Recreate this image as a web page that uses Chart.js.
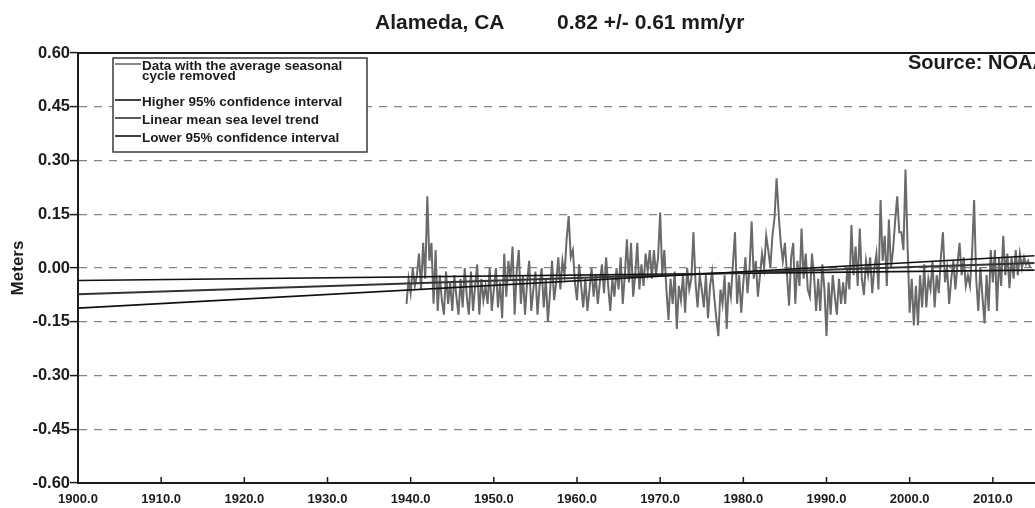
<!DOCTYPE html>
<html>
<head>
<meta charset="utf-8">
<title>Alameda, CA mean sea level trend</title>
<script src="https://cdn.jsdelivr.net/npm/chart.js@4.4.1/dist/chart.umd.min.js"></script>
<style>
  html, body { margin: 0; padding: 0; background: #fff; overflow: hidden; }
  canvas { display: block; }
</style>
</head>
<body>
<canvas id="slr" width="1117" height="508"></canvas>
<script>
// Sea level with the seasonal cycle removed (m), quarterly samples from 1939.5
const seriesStart = 1939.5;
const seriesStep = 0.25;
const seaLevel = [
  -0.10, -0.03,
  -0.07, 0.00, -0.05, -0.02,     // 1940
  0.04, -0.06, 0.07, -0.03,
  0.20, 0.02, 0.07, -0.10,
  0.05, -0.12, -0.02, -0.09,
  -0.13, -0.01, -0.10, -0.04,
  -0.12, -0.02, -0.08, -0.13,
  -0.03, -0.11, 0.00, -0.08,
  -0.13, -0.01, -0.12, -0.05,
  0.01, -0.13, -0.03, -0.09,
  -0.05, -0.10, 0.00, -0.12,
  -0.06, 0.00, -0.11, -0.04,     // 1950
  -0.14, 0.04, -0.08, 0.02,
  -0.03, 0.06, -0.13, -0.01,
  0.05, -0.10, -0.02, -0.13,
  -0.04, 0.02, -0.12, -0.06,
  -0.01, -0.13, -0.05, 0.00,
  -0.11, -0.03, -0.15, -0.07,
  0.02, -0.09, -0.04, 0.03,
  -0.06, 0.02, -0.02, 0.08,
  0.145, 0.03, 0.05, -0.04,
  -0.09, 0.01, -0.05, -0.11,     // 1960
  -0.03, -0.12, -0.06, 0.00,
  -0.08, -0.02, -0.10, -0.04,
  0.01, -0.07, 0.03, -0.05,
  -0.12, -0.03, -0.08, 0.00,
  -0.06, 0.03, -0.10, -0.02,
  0.08, -0.04, 0.07, -0.08,
  -0.02, 0.07, -0.06, 0.01,
  -0.05, 0.04, -0.01, 0.05,
  -0.03, 0.05, -0.02, 0.03,
  0.155, -0.02, 0.05, -0.06,     // 1970
  -0.145, -0.03, -0.10, -0.01,
  -0.17, -0.05, -0.09, -0.02,
  -0.125, 0.00, -0.06, -0.03,
  0.10, -0.04, -0.11, -0.02,
  -0.06, -0.11, -0.02, -0.14,
  -0.05, -0.01, -0.08, -0.14,
  -0.19, -0.06, -0.10, -0.02,
  -0.17, -0.04, -0.08, 0.01,
  0.10, -0.10, -0.02, -0.125,
  -0.04, 0.03, -0.07, 0.00,      // 1980
  0.13, -0.03, 0.02, -0.08,
  -0.02, 0.04, 0.00, 0.09,
  0.05, 0.00, 0.09, 0.14,
  0.25, 0.15, 0.07, 0.02,
  0.07, -0.02, -0.105, 0.03,
  0.07, -0.10, 0.02, -0.05,
  0.11, -0.03, 0.04, -0.06,
  -0.08, 0.04, -0.02, -0.12,
  -0.03, -0.12, 0.01, -0.06,
  -0.19, -0.04, -0.13, -0.02,    // 1990
  -0.08, -0.13, -0.03, -0.10,
  -0.04, -0.10, 0.00, -0.06,
  0.12, -0.02, 0.06, -0.05,
  0.11, -0.03, -0.075, 0.02,
  -0.02, 0.03, -0.07, 0.00,
  0.04, -0.06, 0.19, 0.02,
  0.09, -0.05, 0.135, 0.00,
  0.05, 0.13, 0.20, 0.10,
  0.10, 0.05, 0.275, 0.06,
  -0.125, -0.03, -0.16, -0.05,   // 2000
  -0.16, -0.02, -0.11, 0.01,
  -0.11, -0.03, -0.06, 0.02,
  -0.11, -0.02, -0.07, 0.03,
  0.10, -0.04, 0.00, -0.10,
  -0.03, 0.02, -0.06, 0.01,
  0.07, -0.02, 0.03, -0.05,
  -0.02, -0.05, 0.04, 0.19,
  -0.03, -0.12, 0.00, -0.08,
  -0.155, -0.02, -0.12, 0.05,
  -0.04, 0.05, -0.12, 0.03,      // 2010
  -0.05, 0.09, -0.02, 0.04,
  -0.056, 0.03, -0.03, 0.05,
  -0.02, 0.04, 0.00, 0.03,
  0.01, 0.02, 0.00
];

// linear trend and its 95% confidence lines, end points
const trendYears = [1900, 2015];
const trendLine = [-0.073, 0.014];
const upperCI = [-0.112, 0.034];
const lowerCI = [-0.035, -0.006];

const xTicks = [1900, 1910, 1920, 1930, 1940, 1950, 1960, 1970, 1980, 1990, 2000, 2010, 2020];
const yTicks = [-0.60, -0.45, -0.30, -0.15, 0.00, 0.15, 0.30, 0.45, 0.60];

const legendLabels = [
  ['Data with the average seasonal', 'cycle removed'],
  ['Higher 95% confidence interval'],
  ['Linear mean sea level trend'],
  ['Lower 95% confidence interval']
];

const stationName = 'Alameda, CA';
const trendRate = '0.82 +/- 0.61 mm/yr';
const sourceNote = 'Source: NOAA';

const FONT = '"Liberation Sans", Arial, sans-serif';
const INK = '#1c1c1c';

const pts = (xs, ys) => xs.map((x, i) => ({ x: x, y: ys[i] }));
const seaLevelPoints = seaLevel.map((v, i) => ({ x: seriesStart + i * seriesStep, y: v }));

// heading, legend box, source note, top frame line and inward x ticks
const decorations = {
  id: 'decorations',
  afterDatasetsDraw(chart) {
    const { ctx, chartArea } = chart;
    const ds = chart.data.datasets;
    ctx.save();

    // heading: station on the left, rate a little further right
    ctx.fillStyle = INK;
    ctx.font = 'bold 21px ' + FONT;
    ctx.textBaseline = 'middle';
    ctx.textAlign = 'left';
    ctx.fillText(stationName, 375, 23);
    ctx.fillText(trendRate, 557, 23);

    // top frame
    ctx.strokeStyle = INK;
    ctx.lineWidth = 2;
    ctx.beginPath();
    ctx.moveTo(chartArea.left, chartArea.top);
    ctx.lineTo(chartArea.right, chartArea.top);
    ctx.stroke();

    // short x ticks pointing up into the plot
    const xs = chart.scales.x;
    ctx.lineWidth = 1.5;
    xs.ticks.forEach(t => {
      const px = xs.getPixelForValue(t.value);
      ctx.beginPath();
      ctx.moveTo(px, chartArea.bottom);
      ctx.lineTo(px, chartArea.bottom - 6);
      ctx.stroke();
    });

    // legend
    const bx = chartArea.left + 35, by = chartArea.top + 5, bw = 254, bh = 94;
    ctx.fillStyle = '#fff';
    ctx.fillRect(bx, by, bw, bh);
    ctx.strokeStyle = '#3a3a3a';
    ctx.lineWidth = 1.5;
    ctx.strokeRect(bx, by, bw, bh);

    const rows = [[8, 18], [44], [62], [80]];
    ctx.font = 'bold 13.5px ' + FONT;
    legendLabels.forEach((lines, i) => {
      const d = ds[i];
      const ly = by + rows[i][0] - 2;
      ctx.strokeStyle = d.borderColor;
      ctx.lineWidth = Math.min(d.borderWidth, 1.6);
      ctx.beginPath();
      ctx.moveTo(bx + 2, ly);
      ctx.lineTo(bx + 28, ly);
      ctx.stroke();
      ctx.fillStyle = INK;
      lines.forEach((line, j) => {
        ctx.fillText(line, bx + 29, by + rows[i][j]);
      });
    });

    // source note
    ctx.font = 'bold 20px ' + FONT;
    ctx.fillText(sourceNote, chartArea.left + 830, chartArea.top + 10);
    ctx.restore();
  }
};

new Chart(document.getElementById('slr'), {
  type: 'line',
  data: {
    datasets: [
      {
        label: legendLabels[0].join(' '),
        data: seaLevelPoints,
        borderColor: '#6a6a6a',
        borderWidth: 2,
        pointRadius: 0,
        order: 3
      },
      {
        label: legendLabels[1][0],
        data: pts(trendYears, upperCI),
        borderColor: '#111',
        borderWidth: 1.6,
        pointRadius: 0,
        order: 1
      },
      {
        label: legendLabels[2][0],
        data: pts(trendYears, trendLine),
        borderColor: '#333',
        borderWidth: 2,
        pointRadius: 0,
        order: 1
      },
      {
        label: legendLabels[3][0],
        data: pts(trendYears, lowerCI),
        borderColor: '#111',
        borderWidth: 1.6,
        pointRadius: 0,
        order: 1
      }
    ]
  },
  options: {
    responsive: false,
    animation: false,
    devicePixelRatio: 1,
    layout: { padding: { left: 0, right: 41, top: 53, bottom: 0 } },
    plugins: {
      legend: { display: false },
      tooltip: { enabled: false },
      title: { display: false }
    },
    scales: {
      x: {
        type: 'linear',
        min: 1900,
        max: 2020,
        afterBuildTicks: s => { s.ticks = xTicks.map(v => ({ value: v })); },
        afterFit: s => { s.height = 25; },
        ticks: {
          callback: v => v.toFixed(1),
          color: INK,
          font: { family: FONT, size: 13, weight: 'bold' },
          padding: 1,
          maxRotation: 0,
          autoSkip: false
        },
        grid: { display: false },
        border: { color: INK, width: 2 }
      },
      y: {
        min: -0.6,
        max: 0.6,
        afterBuildTicks: s => { s.ticks = yTicks.map(v => ({ value: v })); },
        afterFit: s => { s.width = 78; },
        ticks: {
          callback: v => Math.abs(v) < 1e-9 ? '0.00' : v.toFixed(2),
          color: INK,
          font: { family: FONT, size: 16.5, weight: 'bold' },
          padding: 0
        },
        grid: {
          color: c => (c.tick && Math.abs(c.tick.value) > 0.59) ? 'rgba(0,0,0,0)' : '#858585',
          lineWidth: 1.2,
          tickColor: INK,
          tickLength: 8,
          tickWidth: 1.5
        },
        border: { color: INK, width: 2, dash: [8, 7] },
        title: {
          display: true,
          text: 'Meters',
          color: INK,
          font: { family: FONT, size: 17, weight: 'bold' },
          padding: { top: 8, bottom: 0 }
        }
      }
    }
  },
  plugins: [decorations]
});
</script>
</body>
</html>
